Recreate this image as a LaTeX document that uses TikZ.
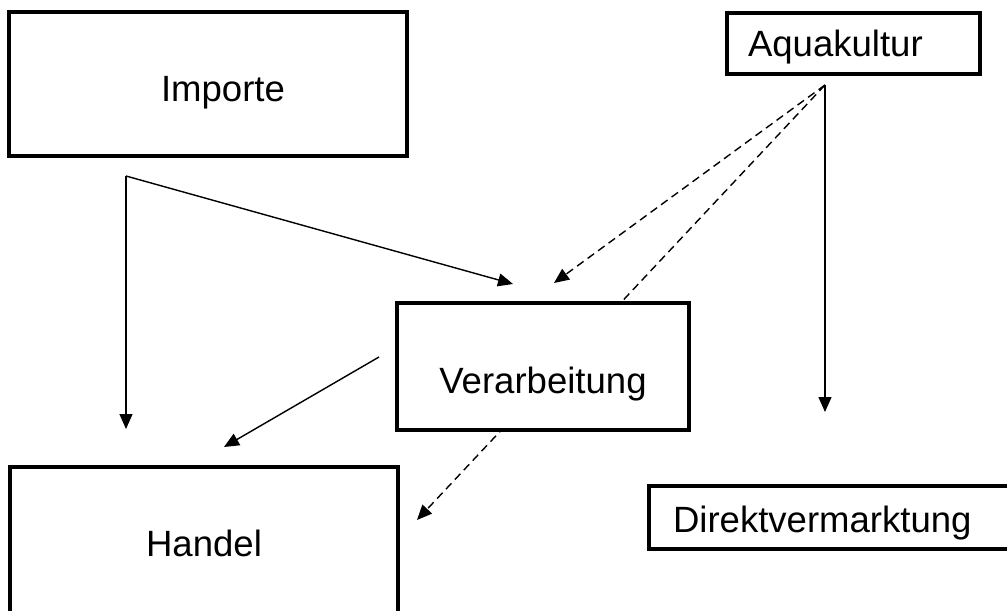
\documentclass[tikz,border=0pt]{standalone}
\usepackage{fontspec}
\setmainfont{Liberation Sans}
\usetikzlibrary{arrows.meta,backgrounds}
\tikzset{
	kasten/.style={draw,line width=2pt,fill=white,inner sep=0pt,text height=0.52cm,text depth=0pt,font=\fontsize{20.8}{25}\selectfont},
	pfeil/.style={line width=0.8pt,-{Triangle[length=0.3cm,width=0.26cm]}},
	strich/.style={pfeil,dash pattern=on 0.16cm off 0.1cm}
}
\begin{document}
	\begin{tikzpicture}
		\useasboundingbox(0,0)rectangle(20.14,12.2);
		\node[kasten,minimum width=7.96cm,minimum height=2.88cm,text height=0.72cm](imp)at(4.16,10.52){\hspace*{0.6cm}Importe};
		\node[kasten,minimum width=7.76cm,minimum height=2.94cm,text height=0.62cm](han)at(4.08,1.39){Handel};
		\node[kasten,minimum width=5.84cm,minimum height=2.54cm,text height=1.06cm](ver)at(10.86,4.87){Verarbeitung};
		\node[kasten,minimum width=5.06cm,minimum height=1.22cm,text width=4.22cm,inner xsep=0.42cm,align=left](aqu)at(17.07,11.33){Aquakultur};
		\node[kasten,minimum width=7.32cm,minimum height=1.26cm,text width=6.36cm,inner xsep=0.48cm,align=left,text height=0.58cm](dir)at(16.64,1.85){Direktvermarktung};
		\coordinate(i0)at(2.52,8.68);
		\coordinate(i1)at(2.52,3.62);
		\coordinate(i2)at(10.26,6.52);
		\coordinate(a0)at(16.5,10.5);
		\coordinate(a1)at(16.5,3.96);
		\coordinate(a2)at(11.08,6.54);
		\coordinate(a3)at(8.34,1.8);
		\coordinate(v0)at(7.58,5.06);
		\coordinate(v1)at(4.48,3.26);
		\begin{scope}[on background layer]
			\draw[pfeil](i0)--(i1);
			\draw[pfeil](i0)--(i2);
			\draw[pfeil](a0)--(a1);
			\draw[strich](a0)--(a2);
			\draw[strich](a0)--(a3);
			\draw[pfeil](v0)--(v1);
		\end{scope}
	\end{tikzpicture}
\end{document}
